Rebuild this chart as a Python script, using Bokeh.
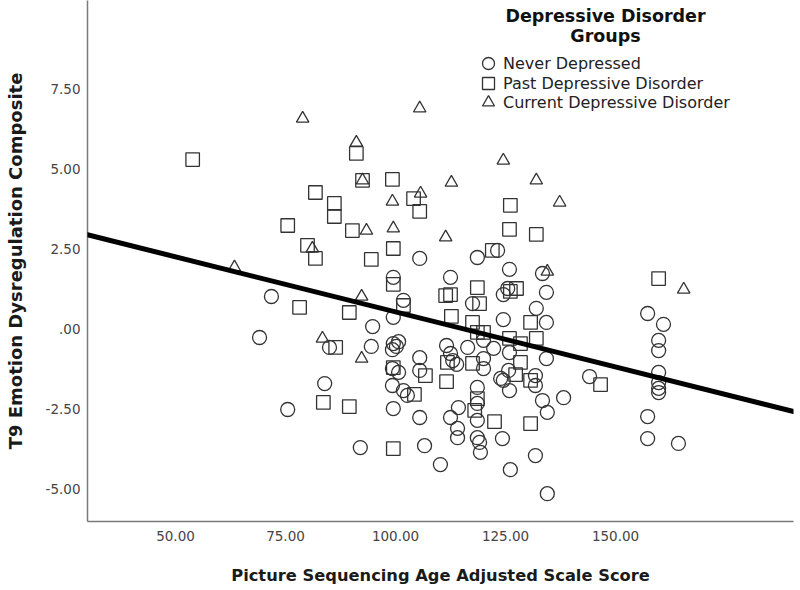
from bokeh.plotting import figure
from bokeh.models import Range1d, FixedTicker, Legend, LegendItem, Label, Slope
from bokeh.embed import file_html
from bokeh.resources import INLINE

# ---------------- data ----------------
never_x = [71.8, 69.1, 75.5, 83.9, 85.0, 92.0, 94.8, 94.5, 99.5, 99.5, 99.5, 100.2, 100.7,
           99.3, 99.3, 100.7, 99.3, 101.8, 102.7, 99.5, 101.8, 105.5, 105.5, 105.5, 105.5,
           106.6, 110.2, 112.5, 118.6, 123.2, 117.5, 111.6, 112.5, 113.0, 113.9, 116.4,
           120.0, 122.3, 120.0, 120.0, 118.6, 118.6, 114.3, 112.5, 114.1, 114.1, 118.6,
           118.6, 119.1, 119.3, 123.9, 124.3, 125.7, 124.5, 131.8, 131.8, 125.9, 133.4,
           138.2, 134.5, 144.1, 131.8, 126.1, 134.5, 125.9, 133.4, 124.5, 125.5, 134.3,
           132.0, 124.5, 134.3, 125.9, 134.3, 157.3, 160.9, 159.8, 159.8, 159.8, 159.8,
           159.8, 159.8, 157.3, 157.3, 164.3]
never_y = [1.03, -0.25, -2.50, -1.69, -0.56, -3.69, 0.09, -0.53, 1.63, 0.38, -0.44, -0.53, -0.38,
           -0.63, -1.22, -1.34, -1.75, -1.91, -2.06, -2.47, 0.91, 2.22, -0.88, -1.28, -2.75,
           -3.63, -4.22, 1.63, 2.25, 2.47, 0.81, -0.50, -0.75, -0.97, -1.09, -0.56,
           -0.34, -0.59, -0.91, -1.22, -1.81, -2.31, -2.44, -2.75, -3.09, -3.38, -2.84,
           -3.38, -3.53, -3.84, -1.53, -3.41, -1.28, -1.59, -1.44, -1.75, -1.91, -2.22,
           -2.13, -2.59, -1.47, -3.94, -4.38, -5.13, 1.88, 1.75, 1.09, 1.28, 1.16,
           0.66, 0.31, 0.22, -0.72, -0.91, 0.50, 0.16, -0.34, -0.66, -1.34, -1.66,
           -1.84, -1.97, -2.72, -3.41, -3.56]

past_x = [53.9, 81.8, 75.5, 80.0, 81.8, 78.2, 83.6, 86.1, 86.1, 91.1, 92.5, 90.2, 99.3, 104.1,
          105.5, 99.5, 94.5, 99.5, 89.5, 86.4, 89.5, 99.5, 99.5, 101.8, 111.4, 112.5, 118.6,
          119.1, 112.7, 117.5, 118.6, 120.0, 122.0, 125.9, 126.1, 132.0, 126.1, 127.5, 130.7,
          125.9, 132.0, 128.4, 128.4, 127.3, 130.7, 146.6, 159.8, 122.5, 130.7, 106.8, 104.3,
          111.8, 117.5, 111.6, 118.6, 118.0]
past_y = [5.31, 4.28, 3.25, 2.63, 2.22, 0.69, -2.28, 3.94, 3.53, 5.50, 4.66, 3.09, 4.69, 4.09,
          3.69, 2.53, 2.19, 1.41, 0.53, -0.56, -2.41, -3.72, -1.19, 0.75, 1.06, 1.09, 1.31,
          0.81, 0.41, 0.22, -0.09, -0.09, 2.47, 3.13, 3.88, 2.97, 1.19, 1.28, 0.22,
          -0.28, -0.28, -0.44, -1.03, -1.41, -1.59, -1.72, 1.59, -2.88, -2.94, -1.44, -2.03,
          -1.03, -1.06, -1.63, -2.16, -2.53]

current_x = [78.9, 105.5, 91.1, 92.5, 63.4, 81.1, 83.4, 93.4, 92.3, 92.3, 99.3, 99.5, 105.7,
             112.7, 111.4, 124.5, 132.0, 137.3, 134.5, 165.5]
current_y = [6.59, 6.91, 5.84, 4.66, 1.94, 2.53, -0.28, 3.09, 1.03, -0.91, 4.00, 3.16, 4.25,
             4.59, 2.88, 5.28, 4.66, 3.97, 1.81, 1.25]

group_labels = ["Never Depressed", "Past Depressive Disorder", "Current Depressive Disorder"]
legend_title_lines = ["Depressive Disorder", "Groups"]

x_ticks = [50, 75, 100, 125, 150]
x_tick_labels = ["50.00", "75.00", "100.00", "125.00", "150.00"]
y_ticks = [-5, -2.5, 0, 2.5, 5, 7.5]
y_tick_labels = ["-5.00", "-2.50", ".00", "2.50", "5.00", "7.50"]

fit_intercept = 3.99
fit_slope = -0.0344

x_title = "Picture Sequencing Age Adjusted Scale Score"
y_title = "T9 Emotion Dysregulation Composite"

# ---------------- figure ----------------
FONT = "DejaVu Sans"
p = figure(width=800, height=590, output_backend="svg", toolbar_location=None,
           x_range=Range1d(30.0, 190.45), y_range=Range1d(-6.0, 10.28),
           min_border_left=87, min_border_right=7, min_border_top=0, min_border_bottom=69)
p.outline_line_color = None
p.grid.visible = False
p.background_fill_color = "white"

for ax in (p.xaxis[0], p.yaxis[0]):
    ax.axis_line_color = "#7a7a7a"
    ax.axis_line_width = 1.5
    ax.major_tick_line_color = None
    ax.minor_tick_line_color = None
    ax.major_tick_out = 0
    ax.major_tick_in = 0
    ax.major_label_text_font = FONT
    ax.major_label_text_font_size = "13.5px"
    ax.major_label_text_color = "#444444"
    ax.axis_label_text_font = FONT
    ax.axis_label_text_font_style = "bold"
    ax.axis_label_text_color = "#1a1a1a"

p.xaxis.axis_label_text_font_size = "16.3px"
p.yaxis.axis_label_text_font_size = "18px"
p.xaxis.ticker = FixedTicker(ticks=x_ticks)
p.xaxis.major_label_overrides = dict(zip(x_ticks, x_tick_labels))
p.yaxis.ticker = FixedTicker(ticks=y_ticks)
p.yaxis.major_label_overrides = dict(zip(y_ticks, y_tick_labels))
p.xaxis.major_label_standoff = 9
p.yaxis.major_label_standoff = 7
p.xaxis.axis_label = x_title
p.yaxis.axis_label = y_title
p.xaxis.axis_label_standoff = 22
p.yaxis.axis_label_standoff = 17

MC = "#333333"
r_never = p.scatter(never_x, never_y, marker="circle", size=14, fill_color=None,
                    line_color=MC, line_width=1.3)
r_past = p.scatter(past_x, past_y, marker="square", size=13.5, fill_color=None,
                   line_color=MC, line_width=1.3)
r_curr = p.scatter(current_x, current_y, marker="triangle", size=12.5, fill_color=None,
                   line_color=MC, line_width=1.3)

fit = Slope(gradient=fit_slope, y_intercept=fit_intercept, line_color="black", line_width=5)
p.add_layout(fit)

# one single-item legend per group, stacked 20 px apart
legend_bottoms = [441, 421, 402]
for lab, rend, yb in zip(group_labels, [r_never, r_past, r_curr], legend_bottoms):
    lg = Legend(items=[LegendItem(label=lab, renderers=[rend])],
                location=(386, yb), glyph_width=30, glyph_height=34,
                label_standoff=0, label_height=20, padding=0, margin=0,
                border_line_color=None, background_fill_alpha=0,
                label_text_font=FONT, label_text_font_size="16px", label_text_color="#222222")
    p.add_layout(lg)

for i, line in enumerate(legend_title_lines):
    p.add_layout(Label(x=518, y=506 - 20 * i, x_units="screen", y_units="screen", text=line,
                       text_align="center", text_baseline="middle", text_font=FONT,
                       text_font_size="17.5px", text_font_style="bold", text_color="#111111"))

open("out.html", "w").write(file_html(p, INLINE))
